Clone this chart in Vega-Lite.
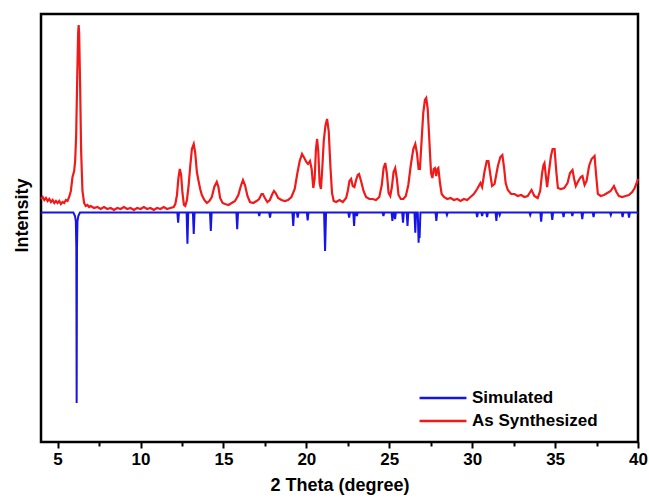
{
 "$schema": "https://vega.github.io/schema/vega-lite/v6.json",
 "width": 597,
 "height": 428,
 "autosize": {"type": "none"},
 "padding": {"left": 41, "top": 14, "right": 11, "bottom": 56},
 "background": "white",
 "config": {"view": {"stroke": "black", "strokeWidth": 2.5}, "font": "Liberation Sans"},
 "datasets": {
  "red": [
   {"x":4.00,"y":243},{"x":4.10,"y":245},{"x":4.20,"y":242},{"x":4.30,"y":244},{"x":4.40,"y":241},{"x":4.50,"y":243},{"x":4.60,"y":240},{"x":4.70,"y":242},{"x":4.80,"y":239},{"x":4.90,"y":241},
   {"x":5.00,"y":239},{"x":5.10,"y":241},{"x":5.20,"y":238},{"x":5.30,"y":240},{"x":5.40,"y":239},{"x":5.50,"y":242},{"x":5.60,"y":241},{"x":5.70,"y":245},{"x":5.80,"y":251},{"x":5.90,"y":265},
   {"x":6.00,"y":271},{"x":6.06,"y":281},{"x":6.12,"y":306},{"x":6.18,"y":361},{"x":6.24,"y":409},{"x":6.27,"y":417},{"x":6.30,"y":409},{"x":6.36,"y":356},{"x":6.42,"y":291},{"x":6.50,"y":251},
   {"x":6.60,"y":239},{"x":6.70,"y":236},{"x":6.80,"y":237},{"x":6.90,"y":235},{"x":7.00,"y":236},{"x":7.20,"y":234},{"x":7.40,"y":235},{"x":7.60,"y":233},{"x":7.80,"y":235},{"x":8.00,"y":233},
   {"x":8.20,"y":234},{"x":8.40,"y":232},{"x":8.60,"y":234},{"x":8.80,"y":233},{"x":9.00,"y":235},{"x":9.20,"y":233},{"x":9.40,"y":234},{"x":9.60,"y":232},{"x":9.80,"y":234},{"x":10.00,"y":233},
   {"x":10.20,"y":235},{"x":10.40,"y":233},{"x":10.60,"y":234},{"x":10.80,"y":232},{"x":11.00,"y":234},{"x":11.20,"y":233},{"x":11.40,"y":235},{"x":11.60,"y":233},{"x":11.80,"y":234},{"x":12.00,"y":235},
   {"x":12.10,"y":238},{"x":12.20,"y":247},{"x":12.28,"y":263},{"x":12.37,"y":273},{"x":12.45,"y":267},{"x":12.53,"y":249},{"x":12.62,"y":237},{"x":12.70,"y":236},{"x":12.80,"y":242},{"x":12.90,"y":256},
   {"x":13.00,"y":276},{"x":13.10,"y":293},{"x":13.21,"y":298},{"x":13.30,"y":289},{"x":13.40,"y":270},{"x":13.50,"y":261},{"x":13.60,"y":253},{"x":13.70,"y":247},{"x":13.85,"y":242},{"x":14.00,"y":239},
   {"x":14.15,"y":241},{"x":14.30,"y":245},{"x":14.45,"y":255},{"x":14.60,"y":260},{"x":14.70,"y":255},{"x":14.80,"y":244},{"x":14.95,"y":239},{"x":15.10,"y":238},{"x":15.30,"y":237},{"x":15.50,"y":239},
   {"x":15.70,"y":241},{"x":15.90,"y":247},{"x":16.05,"y":256},{"x":16.18,"y":262},{"x":16.30,"y":257},{"x":16.45,"y":246},{"x":16.60,"y":240},{"x":16.80,"y":239},{"x":17.00,"y":241},{"x":17.15,"y":243},
   {"x":17.30,"y":248},{"x":17.38,"y":248},{"x":17.50,"y":244},{"x":17.65,"y":240},{"x":17.80,"y":242},{"x":17.95,"y":248},{"x":18.05,"y":251},{"x":18.15,"y":249},{"x":18.30,"y":244},{"x":18.50,"y":242},
   {"x":18.70,"y":241},{"x":18.90,"y":242},{"x":19.10,"y":245},{"x":19.30,"y":253},{"x":19.45,"y":268},{"x":19.60,"y":281},{"x":19.74,"y":288},{"x":19.88,"y":284},{"x":20.00,"y":280},{"x":20.10,"y":278},
   {"x":20.22,"y":281},{"x":20.32,"y":273},{"x":20.42,"y":254},{"x":20.50,"y":263},{"x":20.58,"y":293},{"x":20.65,"y":303},{"x":20.72,"y":291},{"x":20.80,"y":259},{"x":20.88,"y":253},{"x":20.96,"y":273},
   {"x":21.05,"y":301},{"x":21.15,"y":316},{"x":21.25,"y":323},{"x":21.35,"y":311},{"x":21.45,"y":276},{"x":21.55,"y":249},{"x":21.65,"y":241},{"x":21.80,"y":240},{"x":22.00,"y":242},{"x":22.20,"y":240},
   {"x":22.40,"y":244},{"x":22.50,"y":251},{"x":22.60,"y":261},{"x":22.70,"y":263},{"x":22.80,"y":256},{"x":22.90,"y":255},{"x":23.00,"y":262},{"x":23.10,"y":267},{"x":23.18,"y":268},{"x":23.30,"y":261},
   {"x":23.45,"y":251},{"x":23.60,"y":245},{"x":23.80,"y":243},{"x":24.00,"y":243},{"x":24.20,"y":242},{"x":24.40,"y":245},{"x":24.55,"y":257},{"x":24.66,"y":274},{"x":24.76,"y":279},{"x":24.86,"y":268},
   {"x":24.96,"y":249},{"x":25.06,"y":246},{"x":25.16,"y":255},{"x":25.26,"y":270},{"x":25.36,"y":274},{"x":25.46,"y":263},{"x":25.56,"y":247},{"x":25.70,"y":243},{"x":25.85,"y":243},{"x":26.00,"y":246},
   {"x":26.15,"y":257},{"x":26.30,"y":277},{"x":26.45,"y":293},{"x":26.57,"y":298},{"x":26.67,"y":289},{"x":26.77,"y":273},{"x":26.85,"y":273},{"x":26.95,"y":301},{"x":27.05,"y":329},{"x":27.15,"y":342},
   {"x":27.23,"y":344},{"x":27.32,"y":333},{"x":27.42,"y":301},{"x":27.52,"y":269},{"x":27.60,"y":264},{"x":27.68,"y":273},{"x":27.75,"y":274},{"x":27.83,"y":266},{"x":27.90,"y":273},{"x":27.96,"y":274},
   {"x":28.06,"y":259},{"x":28.16,"y":248},{"x":28.30,"y":245},{"x":28.50,"y":243},{"x":28.70,"y":244},{"x":28.90,"y":242},{"x":29.10,"y":243},{"x":29.30,"y":241},{"x":29.50,"y":243},{"x":29.70,"y":242},
   {"x":29.90,"y":245},{"x":30.10,"y":248},{"x":30.30,"y":253},{"x":30.50,"y":259},{"x":30.60,"y":255},{"x":30.75,"y":271},{"x":30.88,"y":281},{"x":30.98,"y":281},{"x":31.10,"y":267},{"x":31.20,"y":256},
   {"x":31.35,"y":258},{"x":31.55,"y":276},{"x":31.70,"y":285},{"x":31.82,"y":287},{"x":31.92,"y":275},{"x":32.02,"y":259},{"x":32.15,"y":252},{"x":32.35,"y":248},{"x":32.55,"y":248},{"x":32.75,"y":246},
   {"x":32.95,"y":247},{"x":33.15,"y":245},{"x":33.35,"y":246},{"x":33.50,"y":250},{"x":33.58,"y":252},{"x":33.75,"y":246},{"x":33.95,"y":244},{"x":34.10,"y":251},{"x":34.22,"y":269},{"x":34.30,"y":277},
   {"x":34.36,"y":279},{"x":34.43,"y":268},{"x":34.52,"y":255},{"x":34.62,"y":269},{"x":34.75,"y":286},{"x":34.85,"y":293},{"x":34.97,"y":293},{"x":35.07,"y":271},{"x":35.17,"y":254},{"x":35.35,"y":253},
   {"x":35.55,"y":254},{"x":35.75,"y":259},{"x":35.90,"y":269},{"x":36.05,"y":272},{"x":36.15,"y":263},{"x":36.25,"y":256},{"x":36.40,"y":261},{"x":36.55,"y":265},{"x":36.65,"y":266},{"x":36.78,"y":257},
   {"x":36.90,"y":261},{"x":37.05,"y":276},{"x":37.20,"y":283},{"x":37.38,"y":286},{"x":37.48,"y":266},{"x":37.58,"y":248},{"x":37.75,"y":246},{"x":37.95,"y":247},{"x":38.15,"y":249},{"x":38.35,"y":251},
   {"x":38.55,"y":256},{"x":38.70,"y":250},{"x":38.85,"y":246},{"x":39.05,"y":245},{"x":39.25,"y":246},{"x":39.45,"y":247},{"x":39.65,"y":250},{"x":39.80,"y":254},{"x":39.92,"y":259},{"x":40.00,"y":263}
  ],
  "blue": [
   {"x":4.00,"y":229.5},{"x":5.95,"y":229.5},{"x":6.05,"y":226},{"x":6.10,"y":221},{"x":6.13,"y":195},{"x":6.15,"y":39},{"x":6.17,"y":195},{"x":6.20,"y":221},{"x":6.25,"y":226},{"x":6.35,"y":229.5},
   {"x":12.22,"y":229.5},{"x":12.27,"y":219.3},{"x":12.32,"y":229.5},{"x":12.78,"y":229.5},{"x":12.83,"y":198.3},{"x":12.88,"y":229.5},{"x":13.16,"y":229.5},{"x":13.21,"y":208},{"x":13.26,"y":229.5},
   {"x":14.19,"y":229.5},{"x":14.24,"y":211},{"x":14.29,"y":229.5},{"x":15.78,"y":229.5},{"x":15.83,"y":212.7},{"x":15.88,"y":229.5},{"x":17.11,"y":229.5},{"x":17.16,"y":226},{"x":17.21,"y":229.5},
   {"x":17.76,"y":229.5},{"x":17.81,"y":224.3},{"x":17.86,"y":229.5},{"x":19.16,"y":229.5},{"x":19.21,"y":216},{"x":19.26,"y":229.5},{"x":19.43,"y":229.5},{"x":19.48,"y":224.3},{"x":19.53,"y":229.5},
   {"x":20.03,"y":229.5},{"x":20.08,"y":221.7},{"x":20.13,"y":229.5},{"x":21.07,"y":229.5},{"x":21.13,"y":191},{"x":21.19,"y":229.5},{"x":22.53,"y":229.5},{"x":22.58,"y":224.3},{"x":22.63,"y":229.5},
   {"x":22.83,"y":229.5},{"x":22.88,"y":216},{"x":22.93,"y":229.5},{"x":23.00,"y":229.5},{"x":23.05,"y":226},{"x":23.10,"y":229.5},{"x":24.60,"y":229.5},{"x":24.65,"y":226},{"x":24.70,"y":229.5},
   {"x":25.14,"y":229.5},{"x":25.19,"y":221},{"x":25.24,"y":229.5},{"x":25.30,"y":229.5},{"x":25.35,"y":223},{"x":25.40,"y":229.5},{"x":25.78,"y":229.5},{"x":25.83,"y":219.3},{"x":25.88,"y":229.5},
   {"x":26.05,"y":229.5},{"x":26.10,"y":216},{"x":26.15,"y":229.5},{"x":26.52,"y":229.5},{"x":26.57,"y":209.3},{"x":26.62,"y":229.5},{"x":26.72,"y":229.5},{"x":26.77,"y":199.3},{"x":26.80,"y":214},{"x":26.83,"y":204},{"x":26.88,"y":229.5},
   {"x":27.79,"y":229.5},{"x":27.84,"y":221},{"x":27.89,"y":229.5},{"x":28.43,"y":229.5},{"x":28.48,"y":227},{"x":28.53,"y":229.5},{"x":30.25,"y":229.5},{"x":30.30,"y":225},{"x":30.35,"y":229.5},
   {"x":30.55,"y":229.5},{"x":30.60,"y":226},{"x":30.65,"y":229.5},{"x":30.85,"y":229.5},{"x":30.90,"y":225},{"x":30.95,"y":229.5},{"x":31.41,"y":229.5},{"x":31.46,"y":221},{"x":31.51,"y":229.5},
   {"x":31.61,"y":229.5},{"x":31.66,"y":227},{"x":31.71,"y":229.5},{"x":33.45,"y":229.5},{"x":33.50,"y":227},{"x":33.55,"y":229.5},{"x":34.11,"y":229.5},{"x":34.16,"y":220.3},{"x":34.21,"y":229.5},
   {"x":34.78,"y":229.5},{"x":34.83,"y":222},{"x":34.88,"y":229.5},{"x":35.46,"y":229.5},{"x":35.51,"y":225},{"x":35.56,"y":229.5},{"x":35.99,"y":229.5},{"x":36.04,"y":226},{"x":36.09,"y":229.5},
   {"x":36.59,"y":229.5},{"x":36.64,"y":223},{"x":36.69,"y":229.5},{"x":37.27,"y":229.5},{"x":37.32,"y":225},{"x":37.37,"y":229.5},{"x":38.31,"y":229.5},{"x":38.36,"y":227},{"x":38.41,"y":229.5},
   {"x":39.02,"y":229.5},{"x":39.07,"y":225},{"x":39.12,"y":229.5},{"x":39.41,"y":229.5},{"x":39.46,"y":224.3},{"x":39.51,"y":229.5},{"x":40.00,"y":229.5}
  ]
 },
 "encoding": {
  "x": {
   "field": "x", "type": "quantitative",
   "scale": {"domain": [4, 40], "nice": false, "zero": false},
   "axis": {
    "values": [5, 7.5, 10, 12.5, 15, 17.5, 20, 22.5, 25, 27.5, 30, 32.5, 35, 37.5, 40],
    "labelExpr": "datum.value % 5 === 0 ? datum.label : ''",
    "tickSize": {"condition": {"test": "datum.value % 5 === 0", "value": 6}, "value": 4},
    "tickWidth": 2, "tickColor": "black",
    "domain": false, "grid": false,
    "labelFontSize": 17, "labelFontWeight": "bold", "labelColor": "black", "labelPadding": 3,
    "labelFlush": false, "labelOverlap": false,
    "title": "2 Theta (degree)", "titleFontSize": 18, "titleFontWeight": "bold", "titleColor": "black", "titlePadding": 9
   }
  },
  "y": {
   "field": "y", "type": "quantitative",
   "scale": {"domain": [0, 428], "nice": false, "zero": false},
   "axis": {
    "labels": false, "ticks": false, "domain": false, "grid": false,
    "title": "Intensity", "titleFontSize": 18, "titleFontWeight": "bold", "titleColor": "black",
    "titlePadding": 10, "titleY": 201
   }
  }
 },
 "layer": [
  {
   "data": {"name": "blue"},
   "mark": {"type": "line", "strokeWidth": 2, "interpolate": "linear"},
   "encoding": {
    "color": {
     "datum": "Simulated", "type": "nominal",
     "scale": {"domain": ["Simulated", "As Synthesized"], "range": ["#1515e8", "#f01a1a"]},
     "legend": {
      "orient": "none", "legendX": 389, "legendY": 371, "title": null,
      "symbolType": "M-2,0L2,0", "symbolSize": 550, "symbolStrokeWidth": 2.5,
      "labelFontSize": 17, "labelFontWeight": "bold", "labelColor": "black", "labelOffset": 16, "rowPadding": 2
     }
    }
   }
  },
  {
   "data": {"name": "red"},
   "mark": {"type": "line", "strokeWidth": 2.2, "interpolate": "linear"},
   "encoding": {"color": {"datum": "As Synthesized", "type": "nominal"}}
  }
 ]
}
